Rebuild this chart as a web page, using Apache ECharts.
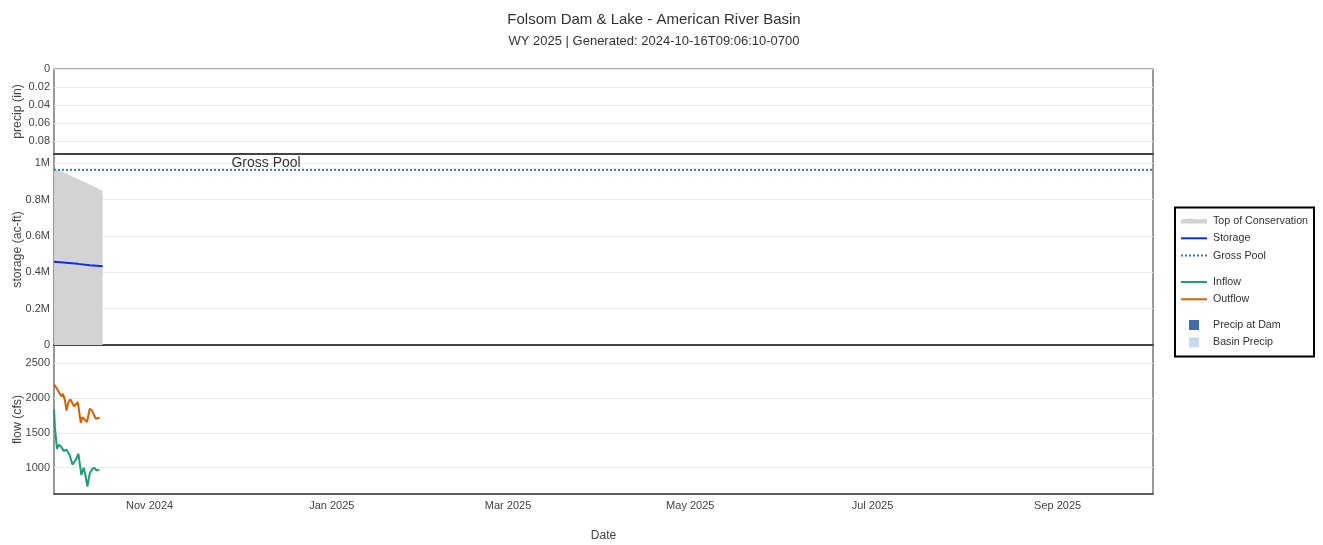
<!DOCTYPE html>
<html>
<head>
<meta charset="utf-8">
<title>Folsom Dam &amp; Lake - American River Basin</title>
<script src="https://cdn.jsdelivr.net/npm/echarts@6/dist/echarts.min.js"></script>
<style>
  html, body { margin: 0; padding: 0; background: #fff; }
  #chart { width: 1323px; height: 545px; }
</style>
</head>
<body>
<div id="chart"></div>
<script>
// ---- text ----
const titleText = 'Folsom Dam & Lake - American River Basin';
const subtitleText = 'WY 2025 | Generated: 2024-10-16T09:06:10-0700';

// ---- date axis (UTC timestamps) ----
const xRange = ['2024-09-30T00:00', '2025-10-02T22:00'];
const dateTicks = ['2024-11-01T00:00', '2025-01-01T00:00', '2025-03-01T00:00',
                   '2025-05-01T00:00', '2025-07-01T00:00', '2025-09-01T00:00'];
const monthNames = ['Jan', 'Feb', 'Mar', 'Apr', 'May', 'Jun', 'Jul', 'Aug', 'Sep', 'Oct', 'Nov', 'Dec'];

// ---- value axes ----
const precipTicks = [0, 0.02, 0.04, 0.06, 0.08];
const storageTicks = [0, 200000, 400000, 600000, 800000, 1000000];
const flowTicks = [1000, 1500, 2000, 2500];

// ---- storage (ac-ft) ----
const grossPool = 963000;
const grossPoolLabelDate = '2024-12-10T00:00';
const tocDates = ['2024-09-30T00:00', '2024-10-01T00:00', '2024-10-03T00:00', '2024-10-06T00:00',
                  '2024-10-09T00:00', '2024-10-12T00:00', '2024-10-14T00:00', '2024-10-16T07:00'];
const tocValues = [963000, 962000, 948000, 925000, 902000, 880000, 864000, 844000];
const storageDates = ['2024-09-30T00:00', '2024-10-04T00:00', '2024-10-08T00:00',
                      '2024-10-12T00:00', '2024-10-16T07:00'];
const storageValues = [458000, 452000, 446000, 439000, 433000];

// ---- flow (cfs) ----
const inflowDates = ['2024-09-30T00:00', '2024-09-30T08:00', '2024-10-01T00:00', '2024-10-01T16:00',
  '2024-10-02T14:00', '2024-10-03T06:00', '2024-10-04T04:00', '2024-10-04T17:00', '2024-10-05T06:00',
  '2024-10-06T04:00', '2024-10-07T06:00', '2024-10-08T04:00', '2024-10-09T04:00', '2024-10-09T23:00',
  '2024-10-10T15:00', '2024-10-11T04:00', '2024-10-11T23:00', '2024-10-12T21:00', '2024-10-13T15:00',
  '2024-10-14T05:00', '2024-10-15T05:00'];
const inflowValues = [1840, 1560, 1273, 1330, 1290, 1240, 1260, 1250, 1180, 1045, 1110, 1200,
  895, 1000, 870, 730, 915, 985, 995, 960, 972];
const outflowDates = ['2024-09-30T00:00', '2024-10-01T00:00', '2024-10-01T22:00', '2024-10-02T14:00',
  '2024-10-03T00:00', '2024-10-03T16:00', '2024-10-04T04:00', '2024-10-04T20:00', '2024-10-05T12:00',
  '2024-10-06T01:00', '2024-10-06T17:00', '2024-10-07T06:00', '2024-10-07T23:00', '2024-10-08T23:00',
  '2024-10-09T12:00', '2024-10-10T01:00', '2024-10-11T01:00', '2024-10-11T23:00', '2024-10-12T17:00',
  '2024-10-13T23:00', '2024-10-14T21:00', '2024-10-15T07:00'];
const outflowValues = [2197, 2135, 2063, 2024, 2063, 1967, 1823, 1943, 1981, 1967, 1881, 1856,
  1943, 1646, 1727, 1727, 1655, 1848, 1823, 1704, 1713, 1713];

// ---- precipitation (in): no readings yet this water year ----
const precipDamDates = [];
const precipDamValues = [];
const basinPrecipDates = [];
const basinPrecipValues = [];

// ---- helpers ----
const ts = s => Date.parse(s + 'Z');
const pairs = (dates, values) => dates.map((d, i) => [ts(d), values[i]]);
const monthLabel = v => { const d = new Date(v); return monthNames[d.getUTCMonth()] + ' ' + d.getUTCFullYear(); };

const FONT = '"Liberation Sans", Arial, Helvetica, sans-serif';
const LABEL_COLOR = '#444';
const GRID_LINE = { show: true, lineStyle: { color: '#ebebeb', width: 1 } };

// legend glyphs
const LINE_ICON = 'path://M0,0H26V2H0Z';
const DOT_ICON = 'path://' + [0, 4, 8, 12, 16, 20, 24].map(x => `M${x},0H${x + 2}V2H${x}Z`).join(' ');
const BAND_ICON = 'path://M0,1L9,0L18,1L26,0L26,5L0,5Z';

const grids = [
  { left: 54, width: 1099, top: 69, height: 85 },   // precip
  { left: 54, width: 1099, top: 154, height: 191 }, // storage
  { left: 54, width: 1099, top: 345, height: 149 }  // flow
].map(g => Object.assign(g, {
  show: true, borderColor: '#555', borderWidth: 1.2, backgroundColor: 'transparent',
  containLabel: false, outerBoundsMode: 'none'
}));

function xAxisFor(i, showLabels, lineWidth) {
  return {
    type: 'value', gridIndex: i,
    min: ts(xRange[0]), max: ts(xRange[1]),
    axisLine: { show: true, onZero: false, lineStyle: { color: '#444', width: lineWidth } },
    axisTick: { show: false, customValues: dateTicks.map(ts) },
    splitLine: { show: false },
    axisLabel: showLabels ? {
      show: true, customValues: dateTicks.map(ts), formatter: monthLabel,
      color: LABEL_COLOR, fontSize: 11, fontFamily: FONT, margin: 6
    } : { show: false },
    name: showLabels ? 'Date' : '',
    nameLocation: 'middle', nameGap: 36, nameMoveOverlap: false,
    nameTextStyle: { color: LABEL_COLOR, fontSize: 12, fontFamily: FONT }
  };
}

function yName(text) {
  return {
    name: text, nameLocation: 'middle', nameGap: 30, nameRotate: 90, nameMoveOverlap: false,
    nameTextStyle: { color: LABEL_COLOR, fontSize: 12.3, fontFamily: FONT }
  };
}

const yAxes = [
  Object.assign({
    type: 'value', gridIndex: 0, inverse: true, min: 0, max: 0.094,
    axisLine: { show: false }, axisTick: { show: false, customValues: precipTicks }, splitLine: GRID_LINE,
    axisLabel: { customValues: precipTicks, color: LABEL_COLOR, fontSize: 11, fontFamily: FONT, margin: 4,
                 formatter: v => String(+v.toFixed(2)) }
  }, yName('precip (in)')),
  Object.assign({
    type: 'value', gridIndex: 1, min: 0, max: 1050000,
    axisLine: { show: false }, axisTick: { show: false, customValues: storageTicks }, splitLine: GRID_LINE,
    axisLabel: { customValues: storageTicks, color: LABEL_COLOR, fontSize: 11, fontFamily: FONT, margin: 4,
                 formatter: v => v === 0 ? '0' : (+(v / 1e6).toFixed(1)) + 'M' }
  }, yName('storage (ac-ft)')),
  Object.assign({
    type: 'value', gridIndex: 2, min: 622, max: 2763,
    axisLine: { show: false }, axisTick: { show: false, customValues: flowTicks }, splitLine: GRID_LINE,
    axisLabel: { customValues: flowTicks, color: LABEL_COLOR, fontSize: 11, fontFamily: FONT, margin: 4,
                 formatter: v => String(v) }
  }, yName('flow (cfs)'))
];

const legendText = { color: '#333', fontSize: 10.7, fontFamily: FONT, lineHeight: 14 };
const legendBase = { orient: 'vertical', left: 1181, itemWidth: 26, itemHeight: 14, itemGap: 3.3, padding: 0,
                     textStyle: Object.assign({}, legendText, { padding: [0, 0, 0, 1] }),
                     selectedMode: false, symbolKeepAspect: true };

const option = {
  animation: false,
  backgroundColor: '#fff',
  textStyle: { fontFamily: FONT },
  title: [
    { text: titleText, left: 654, top: 12, textAlign: 'center', padding: 0,
      textStyle: { fontSize: 15, fontWeight: 'normal', color: '#333', fontFamily: FONT } },
    { text: subtitleText, left: 654, top: 35, textAlign: 'center', padding: 0,
      textStyle: { fontSize: 13, fontWeight: 'normal', color: '#333', fontFamily: FONT } }
  ],
  graphic: [{
    type: 'rect', z: 1,
    shape: { x: 1175, y: 207.5, width: 139, height: 149 },
    style: { fill: '#fff', stroke: '#000', lineWidth: 2 }
  }],
  legend: [
    Object.assign({}, legendBase, { top: 214,
      data: [{ name: 'Top of Conservation', icon: BAND_ICON },
             { name: 'Storage', icon: LINE_ICON },
             { name: 'Gross Pool', icon: DOT_ICON }] }),
    Object.assign({}, legendBase, { top: 275,
      data: [{ name: 'Inflow', icon: LINE_ICON }, { name: 'Outflow', icon: LINE_ICON }] }),
    Object.assign({}, legendBase, { top: 318, left: 1189, itemWidth: 10, itemHeight: 10,
      textStyle: Object.assign({}, legendText, { padding: [0, 0, 0, 9] }),
      data: [{ name: 'Precip at Dam', icon: 'rect' }, { name: 'Basin Precip', icon: 'rect' }] })
  ],
  grid: grids,
  xAxis: [xAxisFor(0, false, 2), xAxisFor(1, false, 2), xAxisFor(2, true, 1.5)],
  yAxis: yAxes,
  series: [
    { name: 'Precip at Dam', type: 'bar', xAxisIndex: 0, yAxisIndex: 0, color: '#3a6eac',
      data: pairs(precipDamDates, precipDamValues) },
    { name: 'Basin Precip', type: 'bar', xAxisIndex: 0, yAxisIndex: 0, color: '#c6dbef',
      data: pairs(basinPrecipDates, basinPrecipValues) },
    { name: 'Top of Conservation', type: 'line', xAxisIndex: 1, yAxisIndex: 1, color: '#d3d3d3',
      symbol: 'none', lineStyle: { color: '#d3d3d3', width: 1 },
      areaStyle: { color: '#d3d3d3', opacity: 1, origin: 'start' },
      data: pairs(tocDates, tocValues), z: 2 },
    { name: 'Storage', type: 'line', xAxisIndex: 1, yAxisIndex: 1, color: '#0a2cf5',
      symbol: 'none', lineStyle: { color: '#0a2cf5', width: 2 },
      data: pairs(storageDates, storageValues), z: 4 },
    { name: 'Gross Pool', type: 'line', xAxisIndex: 1, yAxisIndex: 1, color: '#2b7bba',
      symbol: 'none', lineStyle: { color: '#2b7bba', width: 2, type: [2, 2] },
      data: [[ts(xRange[0]), grossPool], [ts(xRange[1]), grossPool]], z: 3,
      markPoint: {
        symbol: 'circle', symbolSize: 0, silent: true,
        label: { show: true, position: 'top', distance: 0, formatter: 'Gross Pool',
                 color: '#333', fontSize: 14, fontFamily: FONT },
        data: [{ coord: [ts(grossPoolLabelDate), grossPool] }]
      } },
    { name: 'Inflow', type: 'line', xAxisIndex: 2, yAxisIndex: 2, color: '#1b9e77',
      symbol: 'none', lineStyle: { color: '#1b9e77', width: 2 },
      data: pairs(inflowDates, inflowValues) },
    { name: 'Outflow', type: 'line', xAxisIndex: 2, yAxisIndex: 2, color: '#d95f02',
      symbol: 'none', lineStyle: { color: '#d95f02', width: 2 },
      data: pairs(outflowDates, outflowValues) }
  ]
};

const chart = echarts.init(document.getElementById('chart'), null, { renderer: 'canvas' });
chart.setOption(option);
</script>
</body>
</html>
